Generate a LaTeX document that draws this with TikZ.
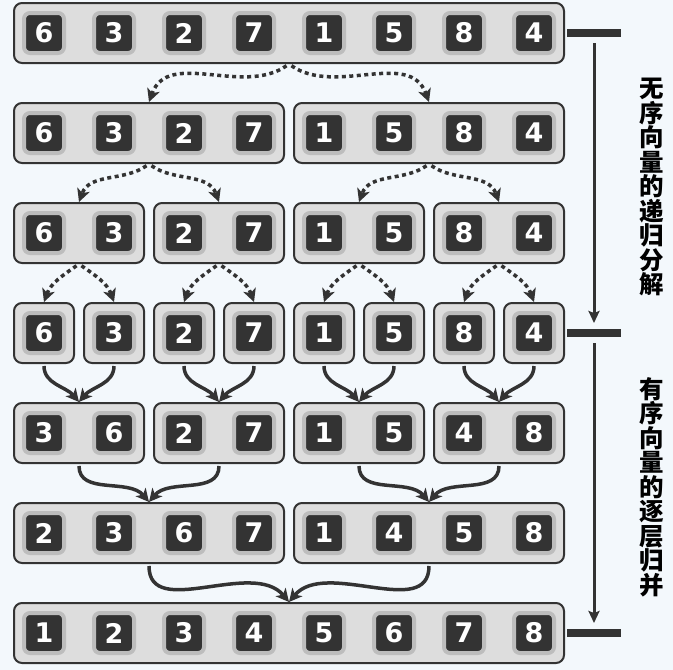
\documentclass[tikz,border=0pt]{standalone}
\usepackage{fontspec}
\setmainfont{DejaVu Sans}
\newfontfamily\cjk{Noto Sans CJK SC}
\usetikzlibrary{arrows.meta}

\definecolor{bgc}{HTML}{F3F8FC}
\definecolor{linec}{HTML}{333333}
\definecolor{boxc}{HTML}{DDDDDD}
\definecolor{ringc}{HTML}{BDBDBD}
\definecolor{tilec}{HTML}{333333}

\begin{document}
\begin{tikzpicture}[x=1pt,y=1pt,
  group/.style={draw=linec,fill=boxc,line width=2pt,rounded corners=8pt,
    minimum height=60pt,inner sep=0pt},
  tile/.style={draw=ringc,fill=tilec,line width=4pt,rounded corners=6pt,
    minimum size=40pt,inner sep=0pt,text=white,
    font=\bfseries\fontsize{27}{27}\selectfont},
  split/.style={draw=linec,line width=3.5pt,dash pattern=on 4pt off 3.5pt,
    shorten <=3pt,-{Stealth[length=13pt,width=13pt,inset=3.5pt]}},
  merge/.style={draw=linec,line width=3.5pt,shorten <=2pt,
    -{Stealth[length=13pt,width=13pt,inset=3.5pt]}},
  bar/.style={draw=linec,line width=8pt},
  phase/.style={draw=linec,line width=3pt,-{Stealth[length=12pt,width=11pt,inset=2pt]}},
  phase label/.style={align=center,font=\cjk\bfseries\fontsize{24.5}{24.5}\selectfont}]

  \fill[bgc] (0,0) rectangle (673,-670);
  \useasboundingbox (0,0) rectangle (673,-670);

  % groups of every level
  \foreach \r/\y/\k in {1/33/8,2/133/4,3/233/2,4/333/1,5/433/2,6/533/4,7/633/8} {
    \pgfmathtruncatemacro\n{8/\k-1}
    \foreach \g in {0,...,\n}
      \node[group,minimum width={70pt*(\k-1)+60pt}] (b\r-\g)
        at ({44+70*(\g*\k+(\k-1)/2)},-\y) {};
  }

  % elements
  \foreach \r/\y/\vals in {1/33/{6,3,2,7,1,5,8,4},2/133/{6,3,2,7,1,5,8,4},
      3/233/{6,3,2,7,1,5,8,4},4/333/{6,3,2,7,1,5,8,4},5/433/{3,6,2,7,1,5,4,8},
      6/533/{2,3,6,7,1,4,5,8},7/633/{1,2,3,4,5,6,7,8}}
    \foreach \v [count=\c from 0] in \vals
      \node[tile] (t\r-\c) at ({44+70*\c},-\y) {\v};

  % splitting
  \foreach \r/\n in {1/0,2/1,3/3} {
    \pgfmathtruncatemacro\s{\r+1}
    \foreach \g in {0,...,\n} {
      \pgfmathtruncatemacro\a{2*\g}
      \pgfmathtruncatemacro\b{2*\g+1}
      \draw[split] (b\r-\g.south) to[out=-145,in=70] (b\s-\a.north);
      \draw[split] (b\r-\g.south) to[out=-35,in=110] (b\s-\b.north);
    }
  }

  % merging
  \foreach \r/\n in {4/3,5/1,6/0} {
    \pgfmathtruncatemacro\s{\r+1}
    \foreach \g in {0,...,\n} {
      \pgfmathtruncatemacro\a{2*\g}
      \pgfmathtruncatemacro\b{2*\g+1}
      \draw[merge] (b\r-\a.south) to[out=-90,in=130] (b\s-\g.north);
      \draw[merge] (b\r-\b.south) to[out=-90,in=50] (b\s-\g.north);
    }
  }

  % phases
  \coordinate (m1) at (594,-33);
  \coordinate (m2) at (594,-333);
  \coordinate (m3) at (594,-633);
  \foreach \m in {m1,m2,m3}
    \draw[bar] ([xshift=-27pt]\m) -- ([xshift=27pt]\m);
  \draw[phase] ([yshift=-10pt]m1) -- ([yshift=10pt]m2);
  \draw[phase] ([yshift=-10pt]m2) -- ([yshift=10pt]m3);

  \node[phase label] (l1) at (652,-187) {无\\序\\向\\量\\的\\递\\归\\分\\解};
  \node[phase label] (l2) at (652,-487) {有\\序\\向\\量\\的\\逐\\层\\归\\并};
\end{tikzpicture}
\end{document}
